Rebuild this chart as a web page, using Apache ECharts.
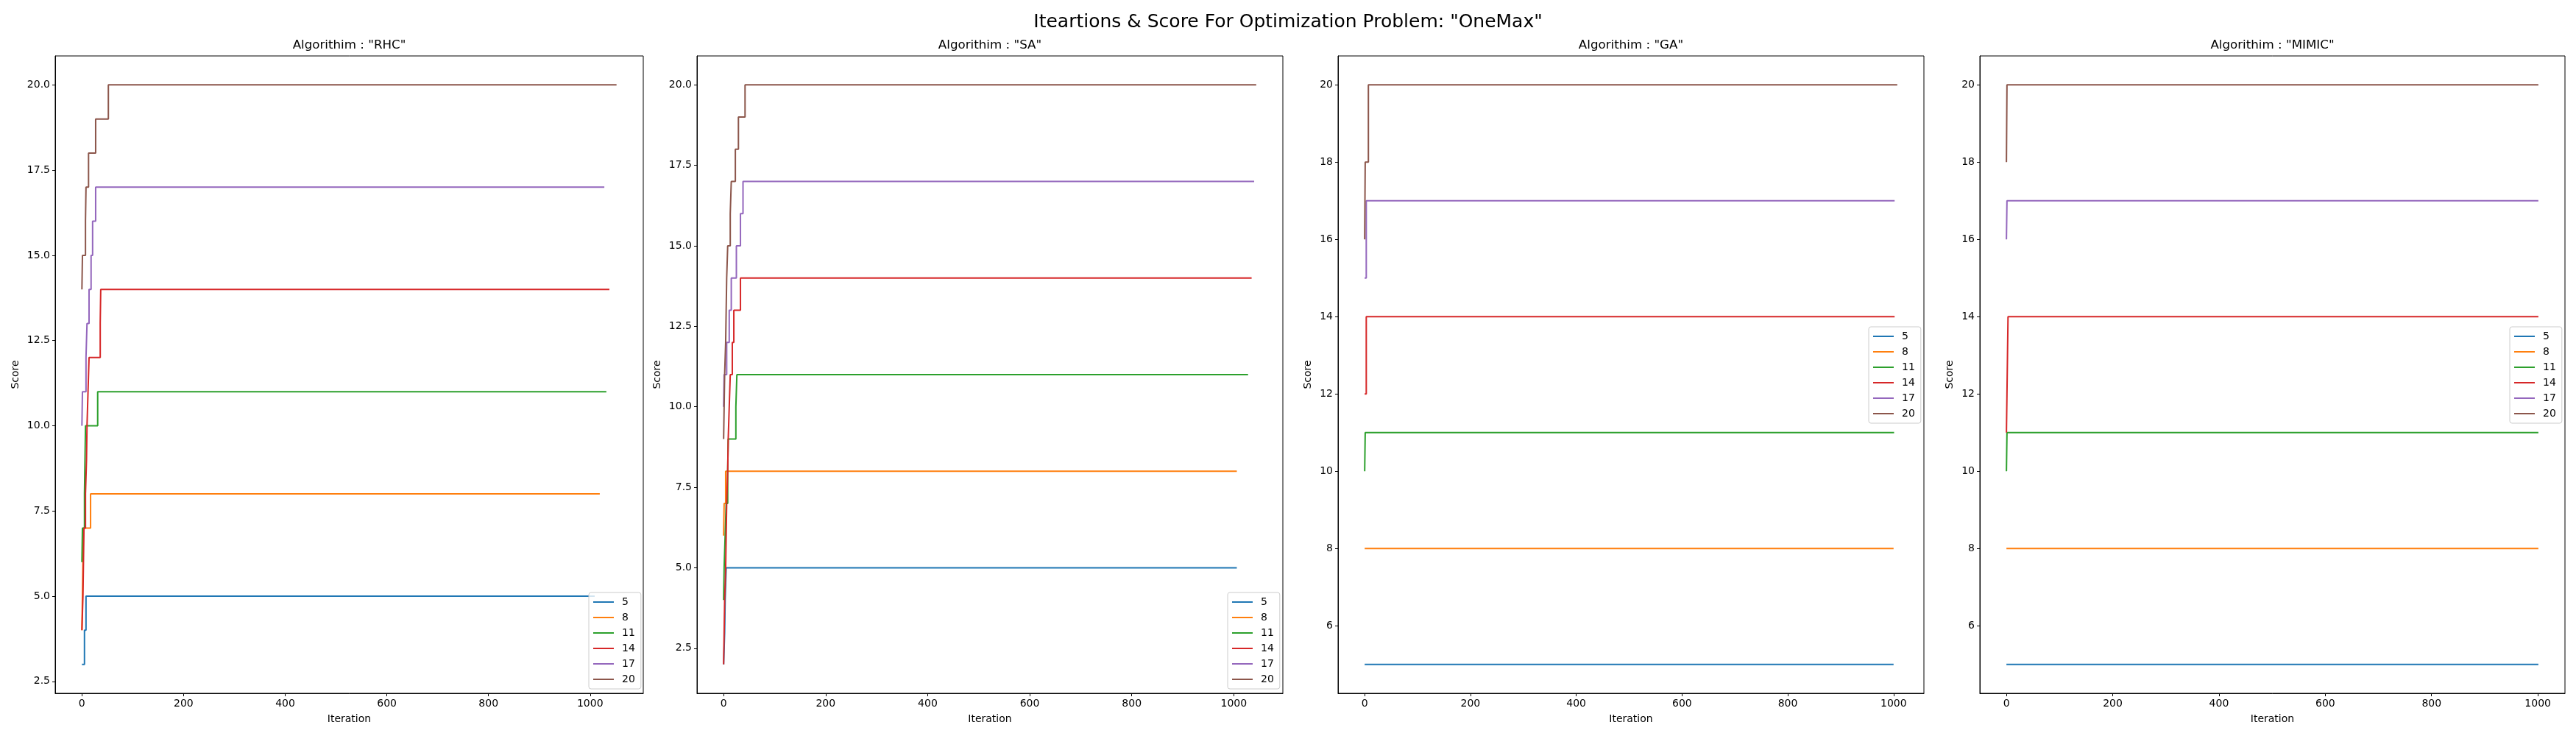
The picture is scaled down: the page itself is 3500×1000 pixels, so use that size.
<!DOCTYPE html>
<html>
<head>
<meta charset="utf-8">
<title>Iterations & Score - OneMax</title>
<script src="https://cdn.jsdelivr.net/npm/echarts@6/dist/echarts.min.js"></script>
<style>
  html, body { margin: 0; padding: 0; background: #fff; }
  #chart { width: 3500px; height: 1000px; }
</style>
</head>
<body>
<div id="chart"></div>
<script>
// problem sizes (one line per size)
const sizes = ["5", "8", "11", "14", "17", "20"];
const algorithms = ["RHC", "SA", "GA", "MIMIC"];

// [iteration, score] where the best score changes, last point = final iteration
const rhcSteps = [
  [[0, 3], [5, 4], [8, 5], [1009, 5]],
  [[0, 4], [1, 5], [2, 6], [3, 7], [17, 8], [1019, 8]],
  [[0, 6], [1, 7], [5, 8], [6, 9], [7, 10], [31, 11], [1032, 11]],
  [[0, 4], [2, 5], [3, 6], [4, 7], [7, 8], [9, 9], [10, 10], [12, 11], [14, 12], [36, 13], [37, 14], [1038, 14]],
  [[0, 10], [1, 11], [8, 12], [10, 13], [14, 14], [18, 15], [21, 16], [27, 17], [1028, 17]],
  [[0, 14], [1, 15], [7, 16], [8, 17], [13, 18], [27, 19], [52, 20], [1052, 20]]
];
const saSteps = [
  [[0, 2], [2, 3], [3, 4], [5, 5], [1006, 5]],
  [[0, 6], [1, 7], [4, 8], [1006, 8]],
  [[0, 4], [1, 5], [3, 6], [5, 7], [8, 8], [9, 9], [24, 10], [26, 11], [1028, 11]],
  [[0, 2], [1, 3], [2, 4], [4, 5], [5, 6], [6, 7], [8, 8], [9, 9], [11, 10], [13, 11], [17, 12], [20, 13], [33, 14], [1035, 14]],
  [[0, 10], [1, 11], [6, 12], [11, 13], [15, 14], [25, 15], [33, 16], [38, 17], [1040, 17]],
  [[0, 9], [1, 10], [2, 11], [4, 12], [5, 13], [6, 14], [8, 15], [13, 16], [15, 17], [23, 18], [29, 19], [42, 20], [1044, 20]]
];
const gaSteps = [
  [[0, 5], [1000, 5]],
  [[0, 8], [1000, 8]],
  [[0, 10], [1, 11], [1001, 11]],
  [[0, 12], [3, 14], [1002, 14]],
  [[0, 15], [3, 17], [1002, 17]],
  [[0, 16], [1, 18], [7, 20], [1007, 20]]
];
const mimicSteps = [
  [[0, 5], [1001, 5]],
  [[0, 8], [1001, 8]],
  [[0, 10], [1, 11], [1001, 11]],
  [[0, 11], [1, 12], [2, 13], [3, 14], [1001, 14]],
  [[0, 16], [1, 17], [1001, 17]],
  [[0, 18], [1, 20], [1001, 20]]
];

const xTicks = [0, 200, 400, 600, 800, 1000];
const yTicksHalf = [2.5, 5, 7.5, 10, 12.5, 15, 17.5, 20];
const yTicksEven = [6, 8, 10, 12, 14, 16, 18, 20];

const panelSteps = [rhcSteps, saSteps, gaSteps, mimicSteps];
const panelYTicks = [yTicksHalf, yTicksHalf, yTicksEven, yTicksEven];

const colors = ["#1f77b4", "#ff7f0e", "#2ca02c", "#d62728", "#9467bd", "#8c564b"];
const font = "DejaVu Sans";

// axes boxes in px (left, width), legend corners
const boxes = [
  { left: 75, width: 799, legend: [800, 805], scoreGap: 47 },
  { left: 947, width: 796, legend: [1668, 805], scoreGap: 47 },
  { left: 1818, width: 796, legend: [2539, 444], scoreGap: 34 },
  { left: 2690, width: 795, legend: [3410, 444], scoreGap: 34 }
];
const plotTop = 76, plotHeight = 866;

// matplotlib style 5% margins
function limits(steps, idx) {
  let lo = Infinity, hi = -Infinity;
  steps.forEach(s => s.forEach(p => { lo = Math.min(lo, p[idx]); hi = Math.max(hi, p[idx]); }));
  const pad = (hi - lo) * 0.05;
  return [lo - pad, hi + pad];
}

const chart = echarts.init(document.getElementById("chart"), null, { renderer: "canvas" });

const grid = [], xAxis = [], yAxis = [], series = [], legend = [];
const title = [{
  text: 'Iteartions & Score For Optimization Problem: "OneMax"',
  left: 1750, top: 30, textAlign: "center", textVerticalAlign: "middle", padding: 0,
  textStyle: { fontFamily: font, fontSize: 25, fontWeight: "normal", color: "#000" }
}];

boxes.forEach((b, p) => {
  const steps = panelSteps[p];
  const xl = limits(steps, 0), yl = limits(steps, 1);
  const yt = panelYTicks[p];
  grid.push({
    left: b.left, top: plotTop, width: b.width, height: plotHeight,
    show: true, borderColor: "#000", borderWidth: 1, backgroundColor: "transparent",
    outerBoundsMode: "none"
  });
  title.push({
    text: 'Algorithim : "' + algorithms[p] + '"',
    left: b.left + b.width / 2, top: 62, textAlign: "center", textVerticalAlign: "middle", padding: 0,
    textStyle: { fontFamily: font, fontSize: 16.7, fontWeight: "normal", color: "#000" }
  });
  xAxis.push({
    type: "value", gridIndex: p, min: xl[0], max: xl[1],
    name: "Iteration", nameLocation: "middle", nameGap: 28,
    nameTextStyle: { fontFamily: font, fontSize: 14, color: "#000" },
    axisLine: { show: true, onZero: false, lineStyle: { color: "#000", width: 1 } },
    axisTick: { show: true, customValues: xTicks, length: 4, lineStyle: { color: "#000", width: 1 } },
    axisLabel: {
      customValues: xTicks, margin: 7, fontFamily: font, fontSize: 14, color: "#000",
      formatter: v => String(v)
    },
    splitLine: { show: false }
  });
  yAxis.push({
    type: "value", gridIndex: p, min: yl[0], max: yl[1],
    name: "Score", nameLocation: "middle", nameGap: b.scoreGap,
    nameTextStyle: { fontFamily: font, fontSize: 14, color: "#000" },
    axisLine: { show: true, onZero: false, lineStyle: { color: "#000", width: 1 } },
    axisTick: { show: true, customValues: yt, length: 4, lineStyle: { color: "#000", width: 1 } },
    axisLabel: {
      customValues: yt, margin: 7, fontFamily: font, fontSize: 14, color: "#000",
      formatter: v => (p < 2 ? v.toFixed(1) : String(v))
    },
    splitLine: { show: false }
  });
  legend.push({
    orient: "vertical", left: b.legend[0], top: b.legend[1], data: sizes,
    icon: "rect", itemWidth: 28, itemHeight: 2, itemGap: 7,
    padding: [6, 8, 6, 6], selectedMode: false,
    backgroundColor: "rgba(255,255,255,0.8)", borderColor: "#cccccc", borderWidth: 1, borderRadius: 3,
    textStyle: { fontFamily: font, fontSize: 14, color: "#000", lineHeight: 14, padding: [0, 0, 0, 6] }
  });
  steps.forEach((s, i) => {
    series.push({
      type: "line", name: sizes[i], xAxisIndex: p, yAxisIndex: p,
      data: s, step: "end", symbol: "none", showSymbol: false,
      color: colors[i], lineStyle: { color: colors[i], width: 2 },
      silent: true, animation: false
    });
  });
});

chart.setOption({
  backgroundColor: "#fff",
  animation: false,
  title, grid, xAxis, yAxis, legend, series
});
</script>
</body>
</html>
